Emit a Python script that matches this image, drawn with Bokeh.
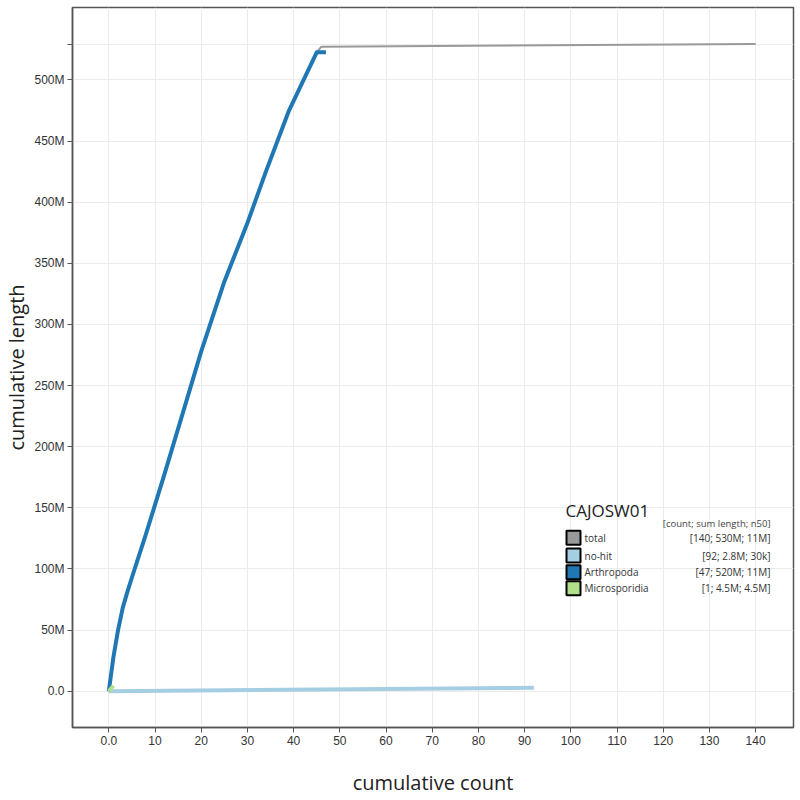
from bokeh.plotting import figure
from bokeh.models import Range1d, FixedTicker, Label, BoxAnnotation
from bokeh.embed import file_html
from bokeh.resources import INLINE

# ---- data ----
arth_count = [0, 1, 2, 3, 4, 5, 8, 12, 17, 20, 25, 30, 34, 39, 45, 47]
arth_length = [0, 28.0e6, 50e6, 68e6, 81e6, 93e6, 128e6, 177e6, 240e6, 278e6,
               335e6, 383e6, 425e6, 475e6, 522.6e6, 522.6e6]

total_count = [0, 1, 2, 3, 4, 5, 8, 12, 17, 20, 25, 30, 34, 39, 45, 46, 140]
total_length = [0, 28.0e6, 50e6, 68e6, 81e6, 93e6, 128e6, 177e6, 240e6, 278e6,
                335e6, 383e6, 425e6, 475e6, 522.6e6, 527.2e6, 529.4e6]

nohit_count = [0, 92]
nohit_length = [0, 2.8e6]

micro_count = [0, 1]
micro_length = [0, 4.5e6]

legend_title = "CAJOSW01"
legend_header = "[count; sum length; n50]"
legend_names = ["total", "no-hit", "Arthropoda", "Microsporidia"]
legend_stats = ["[140; 530M; 11M]", "[92; 2.8M; 30k]", "[47; 520M; 11M]", "[1; 4.5M; 4.5M]"]
legend_colors = ["#999999", "#a6cee3", "#1f78b4", "#b2df8a"]

x_ticks = [0, 10, 20, 30, 40, 50, 60, 70, 80, 90, 100, 110, 120, 130, 140]
x_labels = ["0.0"] + [str(v) for v in x_ticks[1:]]
y_ticks = [0, 50e6, 100e6, 150e6, 200e6, 250e6, 300e6, 350e6, 400e6, 450e6, 500e6, 529.4e6]
y_labels = ["0.0", "50M", "100M", "150M", "200M", "250M", "300M", "350M", "400M", "450M", "500M", ""]

p = figure(width=800, height=800, output_backend="svg", toolbar_location=None,
           x_range=Range1d(-7.86, 148.2), y_range=Range1d(-29.7e6, 559.3e6),
           min_border_left=72, min_border_right=7, min_border_top=7, min_border_bottom=73)
p.background_fill_color = "white"
p.border_fill_color = "white"
p.outline_line_color = "#555555"
p.outline_line_width = 1.5

p.xaxis.ticker = FixedTicker(ticks=x_ticks)
p.xaxis.major_label_overrides = {int(t): l for t, l in zip(x_ticks, x_labels)}
p.yaxis.ticker = FixedTicker(ticks=y_ticks)
p.yaxis.major_label_overrides = {int(t): l for t, l in zip(y_ticks, y_labels)}

for ax in (p.xaxis, p.yaxis):
    ax.minor_tick_line_color = None
    ax.major_tick_out = 5
    ax.major_tick_in = 0
    ax.major_tick_line_color = "#555555"
    ax.axis_line_color = "#555555"
    ax.axis_line_width = 1.5
    ax.major_label_text_font = "Liberation Sans"
    ax.major_label_text_font_size = "12px"
    ax.major_label_text_color = "#333333"
    ax.major_label_standoff = 3
    ax.axis_label_text_font = "Open Sans"
    ax.axis_label_text_font_size = "20px"
    ax.axis_label_text_font_style = "normal"
    ax.axis_label_text_color = "#222222"

p.xaxis.axis_label = "cumulative count"
p.xaxis.axis_label_standoff = 21
p.yaxis.axis_label = "cumulative length"
p.yaxis.axis_label_standoff = 1

p.grid.grid_line_color = "#ebebeb"
p.grid.grid_line_width = 1

p.line(total_count, total_length, line_color=legend_colors[0], line_width=2)
p.line(nohit_count, nohit_length, line_color=legend_colors[1], line_width=4)
p.line(arth_count, arth_length, line_color=legend_colors[2], line_width=4, line_join="round")
p.line(micro_count, micro_length, line_color=legend_colors[3], line_width=4)

# ---- legend (screen units relative to the frame) ----
FL, FB = 72, 727  # canvas coordinates of frame left / bottom

def sx(px):
    return px - FL

def sy(py):
    return FB - py

p.add_layout(Label(x=sx(565), y=sy(510), x_units="screen", y_units="screen", text=legend_title,
                   text_font="Open Sans", text_font_size="17px", text_color="#222222",
                   text_baseline="middle", text_align="left"))
p.add_layout(Label(x=sx(770), y=sy(523), x_units="screen", y_units="screen", text=legend_header,
                   text_font="Open Sans", text_font_size="9.5px", text_color="#444444",
                   text_baseline="middle", text_align="right"))
row_y = [537.3, 555.0, 571.7, 587.7]
for name, stat, col, ry in zip(legend_names, legend_stats, legend_colors, row_y):
    p.add_layout(BoxAnnotation(left=sx(566), right=sx(580), top=sy(ry - 7), bottom=sy(ry + 7),
                               left_units="screen", right_units="screen",
                               top_units="screen", bottom_units="screen",
                               fill_color=col, fill_alpha=1.0,
                               line_color="black", line_width=2, line_alpha=1.0))
    p.add_layout(Label(x=sx(584), y=sy(ry), x_units="screen", y_units="screen", text=name,
                       text_font="Open Sans", text_font_size="10px", text_color="#333333",
                       text_baseline="middle", text_align="left"))
    p.add_layout(Label(x=sx(770), y=sy(ry), x_units="screen", y_units="screen", text=stat,
                       text_font="Open Sans", text_font_size="10px", text_color="#333333",
                       text_baseline="middle", text_align="right"))

open("out.html", "w").write(file_html(p, INLINE))
